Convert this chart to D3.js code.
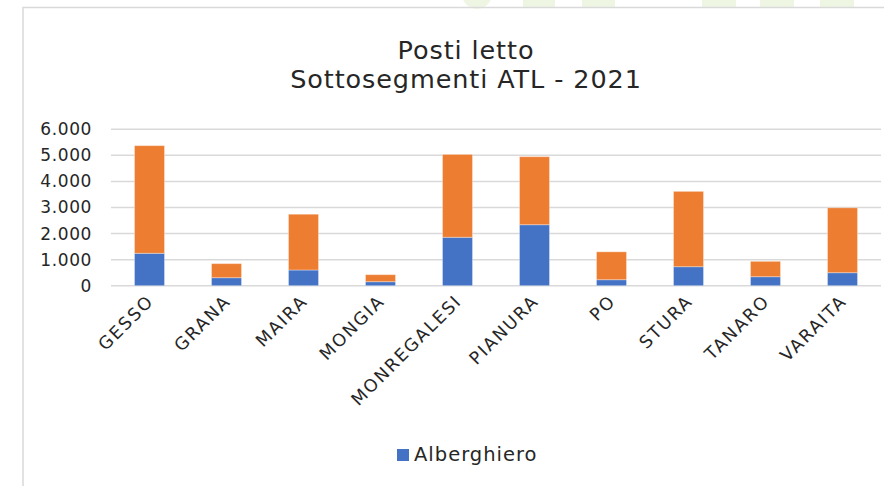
<!DOCTYPE html>
<html>
<head>
<meta charset="utf-8">
<script src="https://cdn.jsdelivr.net/npm/d3@7"></script>
<style>
  html, body { margin: 0; padding: 0; background: #fff; }
  svg { display: block; font-family: "DejaVu Sans", sans-serif; }
</style>
</head>
<body>
<svg id="chart" width="884" height="486"></svg>
<script>
// data
var categories = ["GESSO", "GRANA", "MAIRA", "MONGIA", "MONREGALESI", "PIANURA", "PO", "STURA", "TANARO", "VARAITA"];
var alberghiero = [1243, 307, 602, 153, 1857, 2340, 230, 729, 345, 499];
var extralberghiero = [4130, 540, 2140, 270, 3180, 2610, 1070, 2890, 590, 2490];
var seriesNames = ["Alberghiero", "Extralberghiero"];
var seriesColors = ["#4472C4", "#ED7D31"];
var yTicks = [0, 1000, 2000, 3000, 4000, 5000, 6000];
var titleLines = ["Posti letto", "Sottosegmenti ATL - 2021"];

var svg = d3.select("#chart");

// faint decorations peeking in at the top of the slide
var deco = svg.append("g").attr("fill", "#eef6e3");
deco.append("circle").attr("cx", 477).attr("cy", -6).attr("r", 15);
[[523, 32], [582, 33], [702, 34], [760, 34], [820, 34]].forEach(function(r) {
    deco.append("rect").attr("x", r[0]).attr("y", 0).attr("width", r[1]).attr("height", 7);
});

// chart area frame (only top and left edges are visible)
svg.append("path")
    .attr("d", "M23,486V7.5H884")
    .attr("fill", "none")
    .attr("stroke", "#d9d9d9")
    .attr("stroke-width", 1.5);

// title
svg.append("text")
    .attr("text-anchor", "middle")
    .attr("font-size", 25.5)
    .attr("letter-spacing", 0.9)
    .attr("fill", "#262626")
    .selectAll("tspan")
    .data(titleLines)
    .enter().append("tspan")
    .attr("x", 466)
    .attr("y", function(d, i) { return 59 + i * 29; })
    .text(function(d) { return d; });

// scales
var xScale = d3.scaleBand()
    .domain(categories)
    .range([111, 881])
    .paddingInner(0.61)
    .paddingOuter(0.305);

var yScale = d3.scaleLinear()
    .domain([0, 6000])
    .range([285.7, 129.3]);

var fmt = d3.formatLocale({ decimal: ",", thousands: ".", grouping: [3], currency: ["", "€"] }).format(",d");

// gridlines
svg.append("g")
    .selectAll("line")
    .data(yTicks)
    .enter().append("line")
    .attr("x1", 111)
    .attr("x2", 881)
    .attr("y1", function(d) { return yScale(d); })
    .attr("y2", function(d) { return yScale(d); })
    .attr("stroke", "#d9d9d9")
    .attr("stroke-width", 1.5);

// y axis labels
var yAxis = svg.append("g")
    .attr("transform", "translate(100,0)")
    .call(d3.axisLeft(yScale).tickValues(yTicks).tickFormat(fmt).tickSize(0).tickPadding(8));
yAxis.select(".domain").remove();
yAxis.selectAll("text")
    .attr("font-family", "DejaVu Sans, sans-serif")
    .attr("font-size", 17)
    .attr("letter-spacing", 0.6)
    .attr("fill", "#262626");

// stack the two series
var rows = categories.map(function(c, i) {
    return { cat: c, Alberghiero: alberghiero[i], Extralberghiero: extralberghiero[i] };
});
var stacked = d3.stack().keys(seriesNames)(rows);

var layer = svg.append("g")
    .selectAll("g")
    .data(stacked)
    .enter().append("g")
    .attr("fill", function(d, i) { return seriesColors[i]; });

layer.selectAll("rect")
    .data(function(d) { return d; })
    .enter().append("rect")
    .attr("x", function(d) { return xScale(d.data.cat); })
    .attr("width", xScale.bandwidth())
    .attr("y", function(d) { return yScale(d[1]); })
    .attr("height", function(d) { return yScale(d[0]) - yScale(d[1]); })
    .attr("stroke", "#fff")
    .attr("stroke-opacity", 0.35)
    .attr("stroke-width", 1);

// rotated category labels
svg.append("g")
    .selectAll("text")
    .data(categories)
    .enter().append("text")
    .attr("transform", function(d) {
        return "translate(" + (xScale(d) + xScale.bandwidth() / 2 - 4) + ",293) rotate(-45)";
    })
    .attr("text-anchor", "end")
    .attr("dy", "0.75em")
    .attr("font-size", 17.5)
    .attr("letter-spacing", 1.8)
    .attr("fill", "#262626")
    .text(function(d) { return d; });

// legend shows only the first series
var legend = svg.append("g").attr("transform", "translate(397,449)");
legend.append("rect")
    .attr("width", 12)
    .attr("height", 12)
    .attr("fill", seriesColors[0]);
legend.append("text")
    .attr("x", 17)
    .attr("y", 12)
    .attr("font-size", 19.5)
    .attr("letter-spacing", 1)
    .attr("fill", "#262626")
    .text(seriesNames[0]);
</script>
</body>
</html>
